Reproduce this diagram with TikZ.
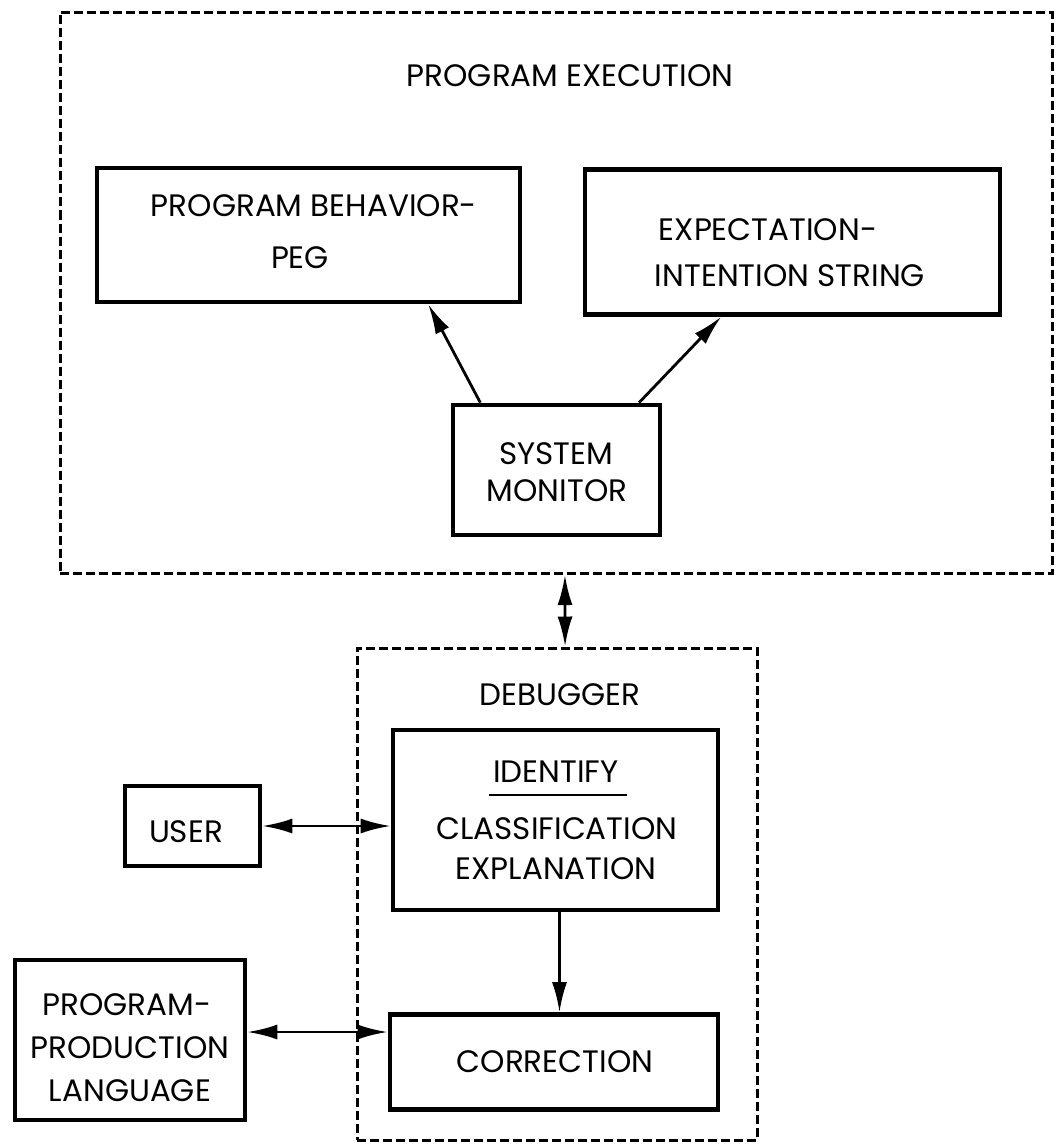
\documentclass[tikz,border=0pt]{standalone}
\usepackage{fontspec}
\setmainfont{Poppins}
\usetikzlibrary{arrows.meta,calc}
\tikzset{
  box/.style={draw,line width=4.6pt,inner sep=0pt},
  dbox/.style={draw,line width=3pt,dash pattern=on 9pt off 4pt,inner sep=0pt},
  lbl/.style={font=\fontsize{31}{40}\selectfont,inner sep=0pt},
  tip/.tip={Latex[length=30pt,width=15pt]},
  arr/.style={line width=2.8pt,-tip},
  darr/.style={line width=2.8pt,tip-tip}
}
\begin{document}
\begin{tikzpicture}[x=1pt,y=-1pt]
\useasboundingbox (0,0) rectangle (1056,1148);
% outer dashed frames
\node[dbox,minimum width=992pt,minimum height=561pt] (outer) at (556,293) {};
\node[lbl] (pe) at (570,76) {PROGRAM EXECUTION};
\node[dbox,minimum width=400pt,minimum height=492pt] (dbg) at (557,894) {};
\node[lbl] (dl) at (560,695) {DEBUGGER};
% boxes
\node[box,minimum width=423pt,minimum height=134pt] (peg) at (308.5,235) {};
\node[lbl] (peg1) at (314,206) {PROGRAM BEHAVIOR-};
\node[lbl] (peg2) at (300,258) {PEG};
\node[box,minimum width=415pt,minimum height=145pt] (eis) at (792.5,242) {};
\node[lbl] (eis1) at (768,230) {EXPECTATION-};
\node[lbl] (eis2) at (790,276) {INTENTION STRING};
\node[box,minimum width=207pt,minimum height=130pt] (sm) at (556.5,470) {};
\node[lbl] (sm1) at (556,454) {SYSTEM};
\node[lbl] (sm2) at (557,491) {MONITOR};
\node[box,minimum width=325pt,minimum height=180pt] (ident) at (555.5,820) {};
\node[lbl] (idt) at (556,772) {IDENTIFY};
\draw[line width=1.8pt] ($(idt.south west)+(-4pt,-12pt)$) coordinate (ula) -- ($(idt.south east)+(8pt,-12pt)$) coordinate (ulb);
\node[lbl] (cls) at (557,829) {CLASSIFICATION};
\node[lbl] (exp) at (556,869) {EXPLANATION};
\node[box,minimum width=135pt,minimum height=80pt] (user) at (192.5,826) {};
\node[lbl] (usr) at (186,832) {USER};
\node[box,minimum width=328pt,minimum height=95pt] (corr) at (554,1062) {};
\node[lbl] (cor) at (555,1062) {CORRECTION};
\node[box,minimum width=230pt,minimum height=160pt] (ppl) at (130,1040) {};
\node[lbl] (ppl1) at (127,1005) {PROGRAM-};
\node[lbl] (ppl2) at (130,1048) {PRODUCTION};
\node[lbl] (ppl3) at (130,1091) {LANGUAGE};
% connectors
\draw[arr] ($(sm.north west)!0.14!(sm.north east)$) -- ($(peg.south west)!0.78!(peg.south east)$);
\draw[arr] ($(sm.north west)!0.89!(sm.north east)$) -- ($(eis.south west)!0.33!(eis.south east)$);
\draw[darr] ($(outer.south west)!0.509!(outer.south east)$) -- ($(dbg.north west)!0.52!(dbg.north east)$);
\draw[darr] (user.east) -- (user.east -| ident.west);
\draw[arr] ($(ident.south)+(4pt,0)$) -- ($(ident.south |- corr.north)+(4pt,0)$);
\draw[darr] ($(ppl.east)+(0,8pt)$) -- ($(ppl.east -| corr.west)+(0,8pt)$);
\end{tikzpicture}
\end{document}
